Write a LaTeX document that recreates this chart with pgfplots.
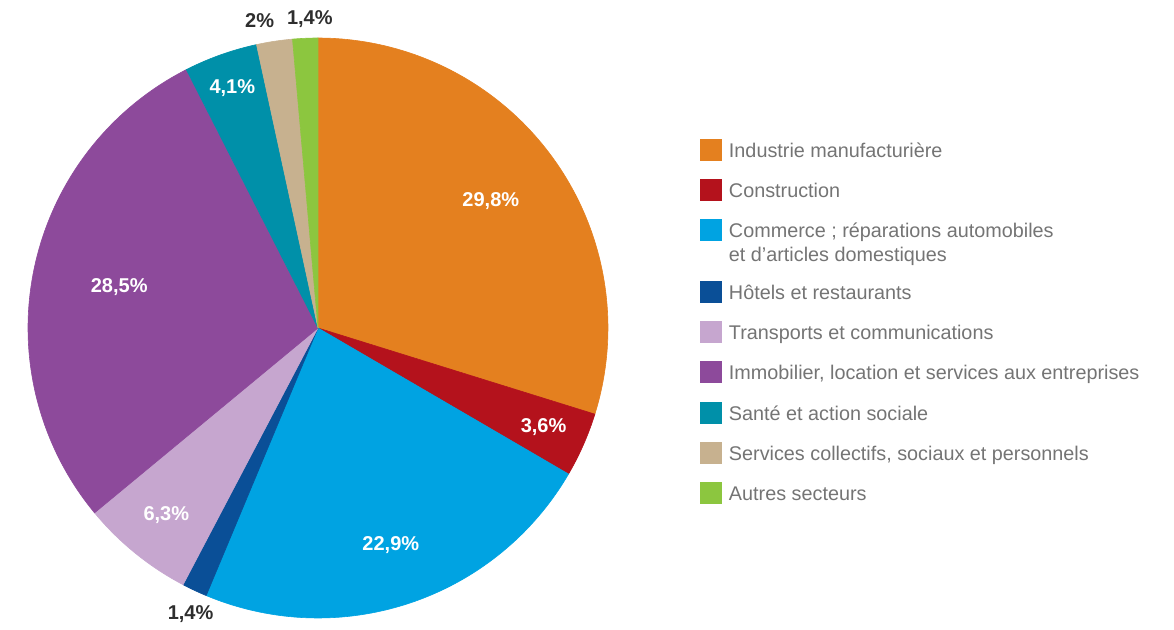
\documentclass[border=0pt]{standalone}
\usepackage{fontspec}
\setmainfont{Liberation Sans}
\usepackage{pgfplots}
\usepgfplotslibrary{polar}
\pgfplotsset{compat=1.18}
\definecolor{cInd}{HTML}{E4801F}
\definecolor{cCon}{HTML}{B4121C}
\definecolor{cCom}{HTML}{00A3E2}
\definecolor{cHot}{HTML}{0A4F97}
\definecolor{cTra}{HTML}{C6A6CF}
\definecolor{cImm}{HTML}{8D4A9B}
\definecolor{cSan}{HTML}{0090A9}
\definecolor{cSer}{HTML}{C7B18F}
\definecolor{cAut}{HTML}{8CC63F}
\definecolor{Legtext}{HTML}{747474}
\definecolor{Outtext}{HTML}{2E2E2E}

% running total of the shares, slices go clockwise from 12 o'clock
\gdef\piecum{0}
% #1 share (%), #2 slice colour, #3 label colour, #4 label radius,
% #5 label angle shift, #6 legend text
\newcommand\slice[6]{%
  \pgfmathsetmacro\pieA{90-3.6*\piecum}%
  \pgfmathsetmacro\pieB{90-3.6*(\piecum+#1)}%
  \pgfmathsetmacro\pieM{(\pieA+\pieB)/2+#5}%
  \pgfmathsetmacro\pietmp{\piecum+#1}\xdef\piecum{\pietmp}%
  \edef\doslice{\noexpand\addplot[draw=#2,fill=#2,line width=0.3pt,domain=\pieB:\pieA,samples=90] {1} -- (axis cs:0,0) -- cycle;}%
  \doslice
  \addlegendentry{#6}%
  \edef\dolabel{\noexpand\node[text=#3,font=\noexpand\fontsize{10}{12}\noexpand\selectfont\noexpand\bfseries] at (axis cs:\pieM,#4) {\noexpand\pgfmathprintnumber[use comma,assume math mode=true]{#1}\noexpand\%};}%
  \dolabel
}

\begin{document}
\begin{tikzpicture}
\begin{polaraxis}[hide axis,scale only axis,width=290pt,height=290pt,ymin=0,ymax=1,clip=false,
  at={(0,0)},anchor=center,
  legend image code/.code={\fill[#1] (0pt,-1.35pt) rectangle (10.5pt,9.15pt);},
  legend style={draw=none,fill=none,inner sep=0pt,at={(1.1586,0.827)},anchor=north west,
    font=\fontsize{9.9}{12}\selectfont,text=Legtext,row sep=7.25pt,column sep=3.5pt,
    cells={anchor=base west},nodes={inner sep=0pt,text depth=,text height=}}]
\slice{29.8}{cInd}{white}{0.74}{0}{\strut Industrie manufacturière}
\slice{3.6}{cCon}{white}{0.85}{0}{\strut Construction}
\slice{22.9}{cCom}{white}{0.79}{0}{\raisebox{0pt}[\height][14.1pt]{\begin{tabular}[t]{@{}l@{}}Commerce ; réparations automobiles\\et d'articles domestiques\end{tabular}}}
\slice{1.4}{cHot}{Outtext}{1.08}{1.2}{\strut Hôtels et restaurants}
\slice{6.3}{cTra}{white}{0.83}{0}{\strut Transports et communications}
\slice{28.5}{cImm}{white}{0.70}{0}{\strut Immobilier, location et services aux entreprises}
\slice{4.1}{cSan}{white}{0.88}{0}{\strut Santé et action sociale}
\slice{2}{cSer}{Outtext}{1.08}{2.1}{\strut Services collectifs, sociaux et personnels}
\slice{1.4}{cAut}{Outtext}{1.065}{-1.0}{\strut Autres secteurs}
\end{polaraxis}
\pgfresetboundingbox
\useasboundingbox (-159pt,-151pt) rectangle (428pt,164pt);
\end{tikzpicture}
\end{document}
